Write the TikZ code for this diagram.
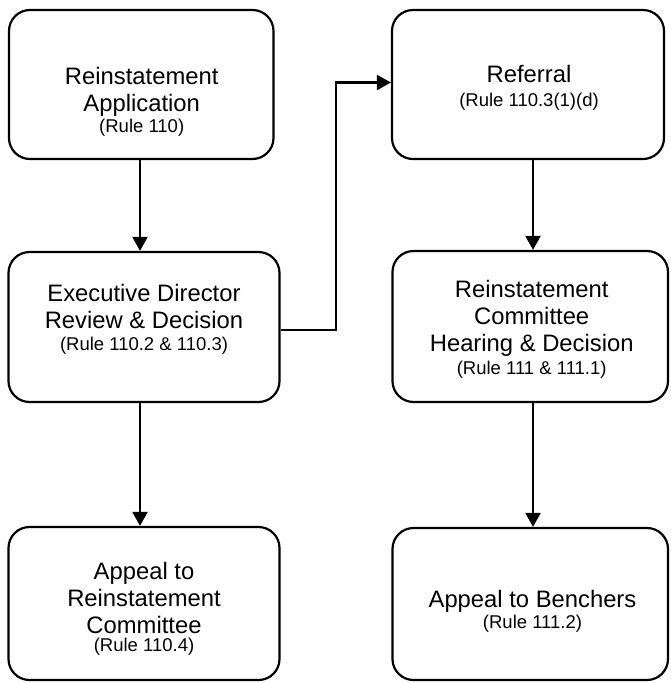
\documentclass[tikz,border=0pt]{standalone}
\usepackage{fontspec}
\setmainfont{Liberation Sans}
\usetikzlibrary{arrows.meta}
\tikzset{
  box/.style={draw=black, line width=2.2pt, rounded corners=21pt, fill=white, inner sep=0pt},
  title/.style={anchor=north, align=center, inner sep=0pt, font=\fontsize{23.8}{27}\selectfont},
  rule/.style={anchor=base, inner sep=0pt, font=\fontsize{18.5}{21}\selectfont},
  arr/.style={draw=black, line width=2.2pt, -{Triangle[length=14pt,width=15pt]}}
}
\begin{document}
\begin{tikzpicture}[x=1pt,y=-1pt]
\useasboundingbox[fill=white] (0,0) rectangle (670,683);
% boxes
\node[box, minimum width=264.5pt, minimum height=149pt] (b1) at (141.25,84.5) {};
\node[box, minimum width=271pt, minimum height=150pt] (b2) at (144,327) {};
\node[box, minimum width=271pt, minimum height=153pt] (b3) at (144,603.5) {};
\node[box, minimum width=272pt, minimum height=149pt] (b4) at (528,84.5) {};
\node[box, minimum width=275.5pt, minimum height=151pt] (b5) at (530.25,326.5) {};
\node[box, minimum width=275.5pt, minimum height=152pt] (b6) at (530.25,604) {};
% texts
\node[title] (t1) at (141.7,67) {Reinstatement\\Application};
\node[rule] (r1) at (141.7,132.7) {(Rule 110)};
\node[title] (t2) at (144,284.3) {Executive Director\\Review \& Decision};
\node[rule] (r2) at (144,350.7) {(Rule 110.2 \& 110.3)};
\node[title] (t3) at (144,561.7) {Appeal to\\Reinstatement\\Committee};
\node[rule] (r3) at (144,651.7) {(Rule 110.4)};
\node[title] (t4) at (529,65) {Referral};
\node[rule] (r4) at (529,106.7) {(Rule 110.3(1)(d)};
\node[title] (t5) at (531.7,280) {Reinstatement\\Committee\\Hearing \& Decision};
\node[rule] (r5) at (531.7,374) {(Rule 111 \& 111.1)};
\node[title] (t6) at (532.5,590) {Appeal to Benchers};
\node[rule] (r6) at (532.5,628.3) {(Rule 111.2)};
% connectors
\coordinate (lx) at (140,0);
\coordinate (rx) at (533,0);
\coordinate (ex) at (336,0);
\coordinate (e1) at ([yshift=2pt]b4.west);
\draw[arr] (lx |- b1.south) -- (lx |- b2.north);
\draw[arr] (lx |- b2.south) -- (lx |- b3.north);
\draw[arr] (rx |- b4.south) -- (rx |- b5.north);
\draw[arr] (rx |- b5.south) -- (rx |- b6.north);
\draw[arr] ([yshift=-3pt]b2.east) -| (ex |- e1) -- (e1);
\end{tikzpicture}
\end{document}
